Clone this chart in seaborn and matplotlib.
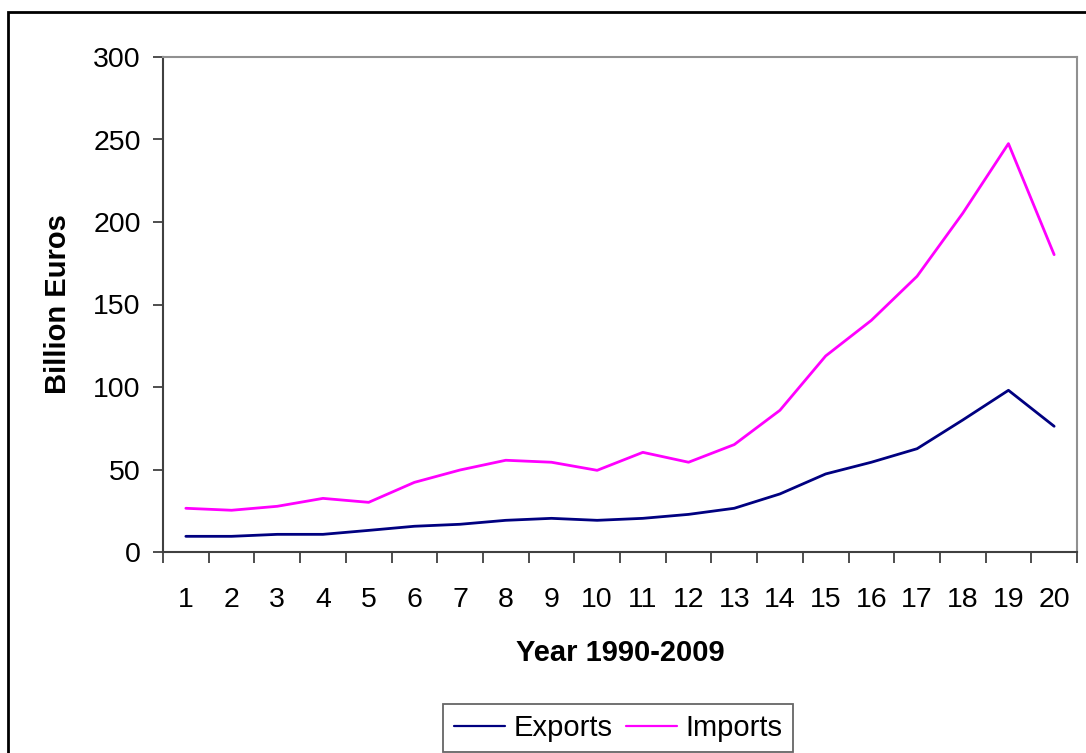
import numpy as np
import pandas as pd
import matplotlib
matplotlib.use("Agg")
import matplotlib.pyplot as plt
import seaborn as sns
from matplotlib.patches import Rectangle
from matplotlib.ticker import FixedLocator

years = list(range(1, 21))
exports = [9.5, 9.5, 10.7, 10.7, 13.1, 15.6, 16.8, 19.2, 20.4, 19.2,
           20.4, 22.8, 26.5, 35.2, 47.3, 54.4, 62.6, 80.0, 98.0, 76.2]
imports = [26.5, 25.3, 27.7, 32.5, 30.1, 42.2, 49.7, 55.6, 54.4, 49.5,
           60.4, 54.4, 65.1, 85.9, 118.8, 140.4, 167.1, 205.3, 247.5, 180.2]
y_ticks = [0, 50, 100, 150, 200, 250, 300]

df = pd.DataFrame({
    "pos": list(range(len(years))) * 2,
    "value": exports + imports,
    "series": ["Exports"] * len(years) + ["Imports"] * len(years),
})

sns.set_theme(style="white")
plt.rcParams["font.family"] = ["Liberation Sans", "DejaVu Sans"]
plt.rcParams["text.color"] = "black"

fig = plt.figure(figsize=(10.86, 7.53), dpi=100)
W, H = 1086, 753
ax = fig.add_axes([163 / W, 1 - 552 / H, (1077 - 163) / W, (552 - 57) / H])

sns.lineplot(data=df, x="pos", y="value", hue="series",
             palette={"Exports": "#000080", "Imports": "#FF00FF"},
             linewidth=2.0, ax=ax, legend=False)

ax.set_xlim(-0.5, len(years) - 0.5)
ax.set_ylim(0, 300)
ax.set_yticks(y_ticks)
ax.set_yticklabels([str(t) for t in y_ticks], fontsize=20.5)
ax.set_xticks(range(len(years)))
ax.set_xticklabels([str(y) for y in years], fontsize=20.5)
ax.xaxis.set_minor_locator(FixedLocator(np.arange(-0.5, len(years), 1.0)))

ax.tick_params(axis="x", which="major", length=0, pad=25, colors="black")
ax.tick_params(axis="x", which="minor", length=8, width=1.3, color="#404040",
               direction="out", bottom=True)
ax.tick_params(axis="y", which="major", length=7, width=1.3, color="#404040",
               direction="out", left=True, pad=9, labelcolor="black")

for side in ["left", "bottom"]:
    ax.spines[side].set_color("#404040")
    ax.spines[side].set_linewidth(1.5)
for side in ["top", "right"]:
    ax.spines[side].set_color("#909090")
    ax.spines[side].set_linewidth(1.5)

ax.set_xlabel("Year 1990-2009", fontsize=21, fontweight="bold", labelpad=19,
              color="black")
ax.set_ylabel("Billion Euros", fontsize=21, fontweight="bold", labelpad=15.5,
              color="black")

# outer chart frame
fig.add_artist(Rectangle((8 / W, -0.05), 1.2, 1 - 12 / H + 0.05,
                         transform=fig.transFigure, fill=False,
                         edgecolor="black", linewidth=2.0))

handles = [plt.Line2D([], [], color="#000080", linewidth=1.6),
           plt.Line2D([], [], color="#FF00FF", linewidth=1.6)]
leg = fig.legend(handles, ["Exports", "Imports"], loc="center",
                 bbox_to_anchor=(618 / W, 1 - 728 / H), ncol=2, fontsize=21,
                 frameon=True, fancybox=False, borderpad=0.35,
                 handlelength=1.75, handletextpad=0.3, columnspacing=0.45,
                 borderaxespad=0, labelcolor="black")
leg.get_frame().set_edgecolor("#404040")
leg.get_frame().set_linewidth(1.3)

fig.savefig("out.png", dpi=100)
